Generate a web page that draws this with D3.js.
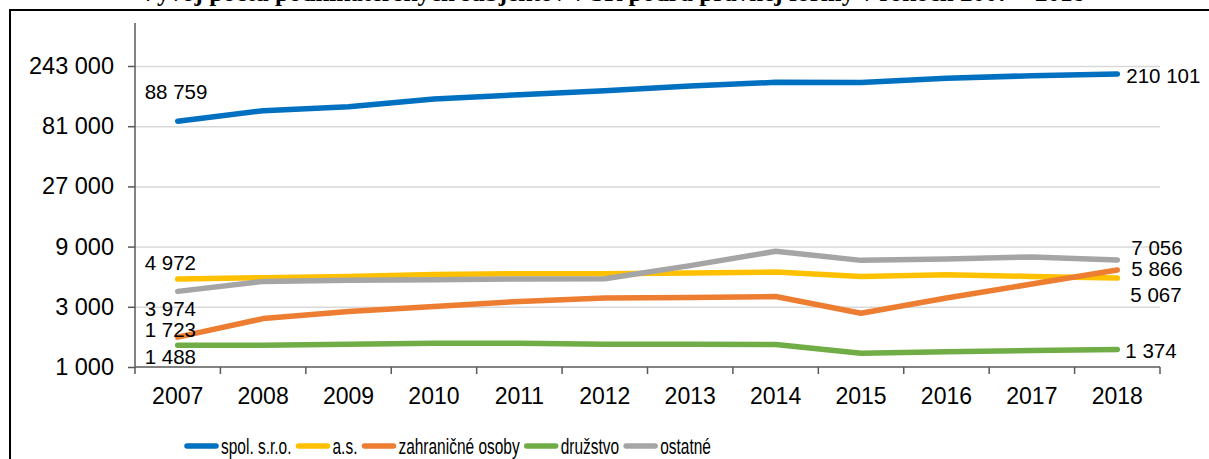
<!DOCTYPE html>
<html>
  <head>
    <meta charset="UTF-8">
    <script src="https://d3js.org/d3.v7.min.js"></script>
    <style>
      body{ margin: 0; background: #fff; }
      text{ font-family: "Liberation Sans", Arial, sans-serif; fill: #000; }
      .title{ font-family: "Liberation Serif", "Times New Roman", serif; font-weight: bold; }
      .gridlines line{ stroke: #d9d9d9; stroke-width: 1.5; }
      .gridlines .domain{ stroke: none; }
    </style>
    <title>Vývoj počtu</title>
  </head>
  <body>
    <svg id="chart" width="1209" height="459"></svg>

    <script>
      // data
      const years = ["2007","2008","2009","2010","2011","2012","2013","2014","2015","2016","2017","2018"];
      const seriesNames = ["spol. s.r.o.", "a.s.", "zahraničné osoby", "družstvo", "ostatné"];
      const sro = [88759, 107500, 115400, 132800, 143700, 154600, 168500, 180400, 180200, 194000, 203600, 210101];
      const as = [4972, 5100, 5220, 5420, 5490, 5490, 5560, 5660, 5220, 5390, 5220, 5067];
      const zahranicne = [1723, 2420, 2750, 3020, 3310, 3520, 3560, 3620, 2670, 3520, 4550, 5866];
      const druzstvo = [1488, 1490, 1515, 1543, 1540, 1515, 1515, 1510, 1285, 1320, 1350, 1374];
      const ostatne = [3974, 4770, 4860, 4920, 4980, 5010, 6360, 8260, 7000, 7180, 7460, 7056];
      const yTicks = [1000, 3000, 9000, 27000, 81000, 243000];

      const colors = ["#0070C0", "#FFC000", "#ED7D31", "#70AD47", "#A5A5A5"];
      const allSeries = [sro, as, zahranicne, druzstvo, ostatne];

      // which points get a value label, and where it sits relative to the point
      const labelSpots = [
        {s: 0, i: 0, dx: -33, dy: -29}, {s: 0, i: 11, dx: 9, dy: 2},
        {s: 1, i: 0, dx: -33, dy: -16}, {s: 1, i: 11, dx: 13, dy: 17},
        {s: 2, i: 0, dx: -33, dy: -7},  {s: 2, i: 11, dx: 14, dy: -1},
        {s: 3, i: 0, dx: -33, dy: 12},  {s: 3, i: 11, dx: 8, dy: 1},
        {s: 4, i: 0, dx: -33, dy: 17},  {s: 4, i: 11, dx: 14, dy: -12}
      ];

      const svg = d3.select("svg#chart");
      const margin = {"top": 23, "left": 135, "right": 1160, "bottom": 367};
      const fmt = v => d3.format(",")(v).replace(/,/g, " ");

      // frame + title (title is cut off at the top edge, as in the source)
      svg.append("rect")
         .attr("x", 10).attr("y", 10).attr("width", 1220).attr("height", 470)
         .attr("fill", "none").attr("stroke", "#000").attr("stroke-width", 2);

      svg.append("text").attr("class", "title")
         .attr("x", 612).attr("y", 1)
         .attr("text-anchor", "middle")
         .attr("font-size", 25)
         .text("Vývoj počtu podnikateľských subjektov v SR podľa právnej formy v rokoch 2007 – 2018");

      const xScale = d3.scaleBand().domain(years).range([margin.left, margin.right]);
      const yScale = d3.scaleLog().base(3).domain([1000, 243000]).range([margin.bottom, 66]);

      // gridlines
      let leftGrid = d3.axisLeft(yScale).tickValues(yTicks.slice(1)).tickFormat("").tickSize(-(margin.right - margin.left));
      svg.append("g")
         .attr("class", "gridlines")
         .attr("transform", "translate(" + margin.left + ",0)")
         .call(leftGrid);

      // y axis
      let leftAxis = d3.axisLeft(yScale).tickValues(yTicks).tickFormat(fmt).tickSize(7).tickPadding(14).tickSizeOuter(0);
      let yAxis = svg.append("g")
         .attr("transform", "translate(" + margin.left + ",0)")
         .call(leftAxis);
      yAxis.select(".domain").remove();
      yAxis.selectAll("line").attr("stroke", "#595959").attr("stroke-width", 1.5);
      yAxis.selectAll("text").attr("font-size", 23.5).attr("font-family", "Liberation Sans, Arial, sans-serif");
      svg.append("line")
         .attr("x1", margin.left).attr("x2", margin.left)
         .attr("y1", margin.top).attr("y2", margin.bottom)
         .attr("stroke", "#595959").attr("stroke-width", 1.5);

      // x axis: ticks on band edges, labels in the middle
      svg.append("line")
         .attr("x1", margin.left).attr("x2", margin.right)
         .attr("y1", margin.bottom).attr("y2", margin.bottom)
         .attr("stroke", "#595959").attr("stroke-width", 1.5);
      const edges = years.map(y => xScale(y)).concat([margin.right]);
      svg.selectAll(".xtick").data(edges).enter().append("line")
         .attr("class", "xtick")
         .attr("x1", d => d).attr("x2", d => d)
         .attr("y1", margin.bottom).attr("y2", margin.bottom + 7)
         .attr("stroke", "#595959").attr("stroke-width", 1.5);
      svg.selectAll(".xlabel").data(years).enter().append("text")
         .attr("class", "xlabel")
         .attr("x", d => xScale(d) + xScale.bandwidth() / 2)
         .attr("y", 404)
         .attr("text-anchor", "middle")
         .attr("font-size", 23)
         .text(d => d);

      // lines
      const line = d3.line()
                     .x((d, i) => xScale(years[i]) + xScale.bandwidth() / 2)
                     .y(d => yScale(d));

      allSeries.forEach((s, k) => {
        svg.append("path")
           .datum(s)
           .attr("d", line)
           .attr("fill", "none")
           .attr("stroke", colors[k])
           .attr("stroke-width", 5.5)
           .attr("stroke-linecap", "round")
           .attr("stroke-linejoin", "round");
      });

      // value labels
      labelSpots.forEach(p => {
        const v = allSeries[p.s][p.i];
        svg.append("text")
           .attr("x", xScale(years[p.i]) + xScale.bandwidth() / 2 + p.dx)
           .attr("y", yScale(v) + p.dy)
           .attr("dy", "0.35em")
           .attr("font-size", 20.5)
           .text(fmt(v));
      });

      // legend (narrow lettering, squeezed horizontally)
      const legend = svg.append("g").attr("class", "legend");
      const squeeze = 0.72;
      let lx = 185;
      seriesNames.forEach((name, k) => {
        legend.append("line")
              .attr("x1", lx + 2).attr("x2", lx + 31)
              .attr("y1", 446).attr("y2", 446)
              .attr("stroke", colors[k]).attr("stroke-width", 5.5)
              .attr("stroke-linecap", "round");
        let t = legend.append("text")
              .attr("transform", "translate(" + (lx + 36) + ",446) scale(" + squeeze + ",1)")
              .attr("dy", "0.35em")
              .attr("font-size", 21.5)
              .text(name);
        lx = lx + 36 + t.node().getComputedTextLength() * squeeze + 5;
      });
    </script>
  </body>
</html>
